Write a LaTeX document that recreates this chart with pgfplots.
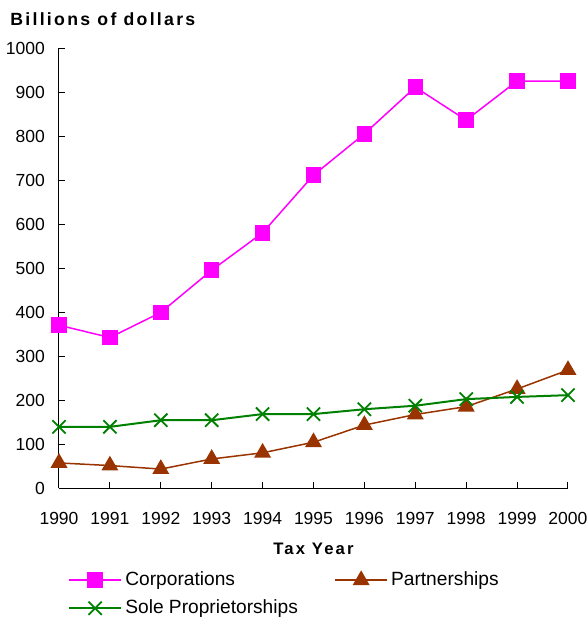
\documentclass[border=0pt]{standalone}
\usepackage{fontspec}
\setmainfont{Liberation Sans}
\newfontfamily\spacedbold[LetterSpace=13]{Liberation Sans Bold}
\usepackage{pgfplots}
\pgfplotsset{compat=1.18}
\definecolor{corp}{HTML}{FF00FF}
\definecolor{part}{HTML}{993300}
\definecolor{sole}{HTML}{008000}
\begin{document}
\begin{tikzpicture}
\path[use as bounding box] (-35.4pt,-77.4pt) rectangle (317.4pt,292.8pt);
\begin{axis}[
    at={(0,0)}, anchor=south west,
    scale only axis,
    width=305.4pt, height=264pt,
    xmin=1990, xmax=2000,
    ymin=0, ymax=1000,
    axis x line=bottom, axis y line=left,
    axis line style={-, black, line width=0.6pt},
    xtick={1990,...,2000},
    ytick={0,100,...,1000},
    tick align=inside,
    major tick length=3.5pt,
    tick style={black, line width=0.6pt},
    /pgf/number format/1000 sep={},
    /pgf/number format/assume math mode=true,
    tick label style={font=\fontsize{10.5}{12}\selectfont},
    xticklabel style={yshift=-11pt},
    yticklabel style={xshift=-5pt},
    xlabel={\spacedbold Tax Year},
    xlabel style={at={(axis description cs:0.5,0)}, anchor=center, yshift=-36.6pt},
    legend style={draw=none, fill=none, at={(2.4pt,-46.2pt)}, anchor=north west,
      font=\fontsize{11.5}{13}\selectfont,
      /tikz/every even column/.append style={column sep=20pt},
      row sep=3pt},
    legend columns=2,
    legend cell align=left,
    legend image code/.code={\draw[mark repeat=2,mark phase=2,#1] plot coordinates {(0pt,0pt) (15.5pt,0pt) (31pt,0pt)};},
]
\addplot[corp, line width=0.9pt, mark=square*, mark size=4.2pt, mark options={fill=corp, draw=corp}]
  coordinates {(1990,370) (1991,342) (1992,399) (1993,495) (1994,580) (1995,711)
               (1996,805) (1997,911) (1998,836) (1999,925) (2000,925)};
\addlegendentry{Corporations}
\addplot[part, line width=0.9pt, mark=triangle*, mark size=5pt, mark options={fill=part, draw=part}]
  coordinates {(1990,57) (1991,51) (1992,43) (1993,66) (1994,80) (1995,104)
               (1996,143) (1997,167) (1998,185) (1999,225) (2000,268)};
\addlegendentry{Partnerships}
\addplot[sole, line width=1.2pt, mark=x, mark size=5.6pt, mark options={draw=sole, line width=1.1pt}]
  coordinates {(1990,139) (1991,139) (1992,154) (1993,154) (1994,168) (1995,168)
               (1996,179) (1997,187) (1998,202) (1999,207) (2000,211)};
\addlegendentry{Sole Proprietorships}
\end{axis}
\node[anchor=west, inner sep=0pt] at (-29.4pt,281.4pt) {\fontsize{10.6}{12}\selectfont\spacedbold Billions of dollars};
\end{tikzpicture}
\end{document}
